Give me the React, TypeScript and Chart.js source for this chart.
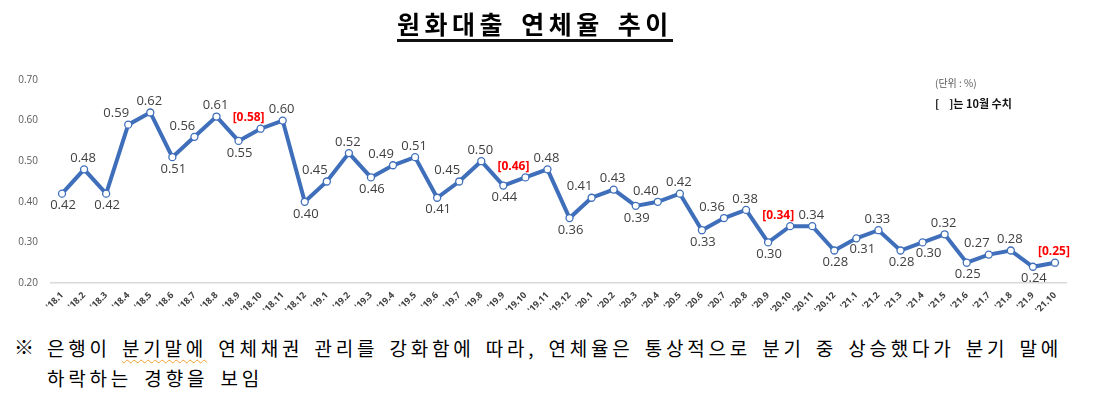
import React, { useEffect, useRef } from "react";
import { Chart, registerables } from "chart.js";

Chart.register(...registerables);

// ---- data ----
const categories: string[] = [
  "'18.1", "'18.2", "'18.3", "'18.4", "'18.5", "'18.6", "'18.7", "'18.8", "'18.9", "'18.10", "'18.11", "'18.12",
  "'19.1", "'19.2", "'19.3", "'19.4", "'19.5", "'19.6", "'19.7", "'19.8", "'19.9", "'19.10", "'19.11", "'19.12",
  "'20.1", "'20.2", "'20.3", "'20.4", "'20.5", "'20.6", "'20.7", "'20.8", "'20.9", "'20.10", "'20.11", "'20.12",
  "'21.1", "'21.2", "'21.3", "'21.4", "'21.5", "'21.6", "'21.7", "'21.8", "'21.9", "'21.10",
];

const delinquencyRate: number[] = [
  0.42, 0.48, 0.42, 0.59, 0.62, 0.51, 0.56, 0.61, 0.55, 0.58, 0.60, 0.40,
  0.45, 0.52, 0.46, 0.49, 0.51, 0.41, 0.45, 0.50, 0.44, 0.46, 0.48, 0.36,
  0.41, 0.43, 0.39, 0.40, 0.42, 0.33, 0.36, 0.38, 0.30, 0.34, 0.34, 0.28,
  0.31, 0.33, 0.28, 0.30, 0.32, 0.25, 0.27, 0.28, 0.24, 0.25,
];

// October values shown in brackets
const octoberLabels: string[] = ["'18.10", "'19.10", "'20.10", "'21.10"];

const yTickValues: number[] = [0.2, 0.3, 0.4, 0.5, 0.6, 0.7];

// ---- label placement (a = above, b = below, al = above-left, br = below-right) ----
const labelAlign: string[] = [
  "b", "a", "b", "al", "a", "b", "al", "a", "b", "al", "a", "b",
  "al", "a", "b", "al", "a", "b", "al", "a", "b", "al", "a", "b",
  "al", "a", "b", "al", "a", "b", "al", "a", "b", "al", "a", "b",
  "br", "a", "b", "br", "a", "b", "al", "a", "b", "a",
];

const alignOffset: Record<string, [number, number]> = {
  a: [-1, -11],
  b: [1, 12],
  al: [-12, -11],
  br: [6, 11],
};

const LINE_BLUE = "#3F6FBA";

const dataLabelPlugin = {
  id: "dataLabelPlugin",
  afterDatasetsDraw(chart: any) {
    const ctx = chart.ctx;
    const meta = chart.getDatasetMeta(0);
    ctx.save();
    ctx.textAlign = "center";
    ctx.textBaseline = "middle";
    meta.data.forEach((pt: any, i: number) => {
      const v = delinquencyRate[i];
      const isOct = octoberLabels.includes(categories[i]);
      const off = alignOffset[labelAlign[i]] || alignOffset.a;
      const text = isOct ? `[${v.toFixed(2)}]` : v.toFixed(2);
      ctx.font = isOct
        ? "bold 12px 'Open Sans', sans-serif"
        : "13px 'Open Sans', sans-serif";
      ctx.fillStyle = isOct ? "#FF0000" : "#404040";
      ctx.fillText(text, pt.x + off[0], pt.y + off[1]);
    });
    ctx.restore();
  },
};

function RateChart() {
  const ref = useRef<HTMLCanvasElement | null>(null);
  useEffect(() => {
    if (!ref.current) return;
    const chart = new Chart(ref.current, {
      type: "line",
      data: {
        labels: categories,
        datasets: [
          {
            data: delinquencyRate,
            borderColor: LINE_BLUE,
            borderWidth: 4,
            pointRadius: 3.5,
            pointBackgroundColor: "#ffffff",
            pointBorderColor: LINE_BLUE,
            pointBorderWidth: 1.3,
            tension: 0,
          },
        ],
      },
      options: {
        animation: false,
        responsive: false,
        devicePixelRatio: 1,
        layout: { padding: { top: 80, left: 0, right: 43, bottom: 0 } },
        plugins: {
          legend: { display: false },
          tooltip: { enabled: false },
          title: { display: false },
        },
        scales: {
          x: {
            offset: true,
            grid: { display: false, drawTicks: false },
            border: { display: true, color: "#D9D9D9", width: 1.5 },
            ticks: {
              autoSkip: false,
              maxRotation: 45,
              minRotation: 45,
              padding: 7,
              color: "#404040",
              font: { family: "'Open Sans', sans-serif", size: 9, weight: "bold" },
            },
            afterFit: (scale: any) => {
              scale.height = 47;
            },
          },
          y: {
            min: 0.2,
            max: 0.7,
            afterBuildTicks: (scale: any) => {
              scale.ticks = yTickValues.map((v) => ({ value: v }));
            },
            grid: { display: false, drawTicks: false },
            border: { display: false },
            ticks: {
              padding: 13,
              color: "#595959",
              font: { family: "'Open Sans', sans-serif", size: 10 },
              callback: (v: any) => Number(v).toFixed(2),
            },
            afterFit: (scale: any) => {
              scale.width = 51;
            },
          },
        },
      },
      plugins: [dataLabelPlugin],
    });
    return () => chart.destroy();
  }, []);
  return (
    <canvas
      ref={ref}
      width={1109}
      height={330}
      style={{ position: "absolute", left: 0, top: 0, width: 1109, height: 330 }}
    />
  );
}

export default function App() {
  const kr = "'Noto Sans CJK KR', sans-serif";
  const justifyLine: React.CSSProperties = {
    textAlign: "justify",
    textAlignLast: "justify" as any,
    whiteSpace: "nowrap",
  };
  return (
    <div
      style={{
        position: "absolute",
        left: 0,
        top: 0,
        width: 1109,
        height: 400,
        background: "#ffffff",
        overflow: "hidden",
        fontFamily: kr,
      }}
    >
      <RateChart />
      <div
        style={{
          position: "absolute",
          left: 397,
          top: 8,
          fontSize: 25,
          fontWeight: 700,
          letterSpacing: 4.5,
          wordSpacing: 4,
          lineHeight: "30px",
          color: "#000",
          borderBottom: "3px solid #111",
          paddingBottom: 1,
          whiteSpace: "nowrap",
        }}
      >
        원화대출 연체율 추이
      </div>
      <div
        style={{
          position: "absolute",
          left: 935,
          top: 75,
          fontSize: 10,
          color: "#595959",
          lineHeight: "16px",
          whiteSpace: "nowrap",
        }}
      >
        (단위 : %)
      </div>
      <div
        style={{
          position: "absolute",
          left: 935,
          top: 94,
          fontSize: 11,
          fontWeight: 700,
          color: "#111",
          lineHeight: "18px",
          whiteSpace: "pre",
        }}
      >
        {"[    ]는 10월 수치"}
      </div>
      <div
        style={{
          position: "absolute",
          left: 14,
          top: 332,
          fontSize: 20,
          lineHeight: "30px",
          color: "#000",
          fontWeight: 700,
        }}
      >
        ※
      </div>
      <div
        style={{
          position: "absolute",
          left: 47,
          top: 333,
          width: 1015,
          fontSize: 19,
          lineHeight: "30px",
          color: "#000",
          letterSpacing: 3.8,
        }}
      >
        <div style={justifyLine}>
          은행이{" "}
          <span
            style={{
              textDecoration: "underline wavy #F0A030",
              textDecorationThickness: 1,
              textUnderlineOffset: 3,
            }}
          >
            분기말에
          </span>{" "}
          연체채권 관리를 강화함에 따라, 연체율은 통상적으로 분기 중 상승했다가 분기 말에
        </div>
        <div style={{ ...justifyLine, width: 216 }}>하락하는 경향을 보임</div>
      </div>
    </div>
  );
}
